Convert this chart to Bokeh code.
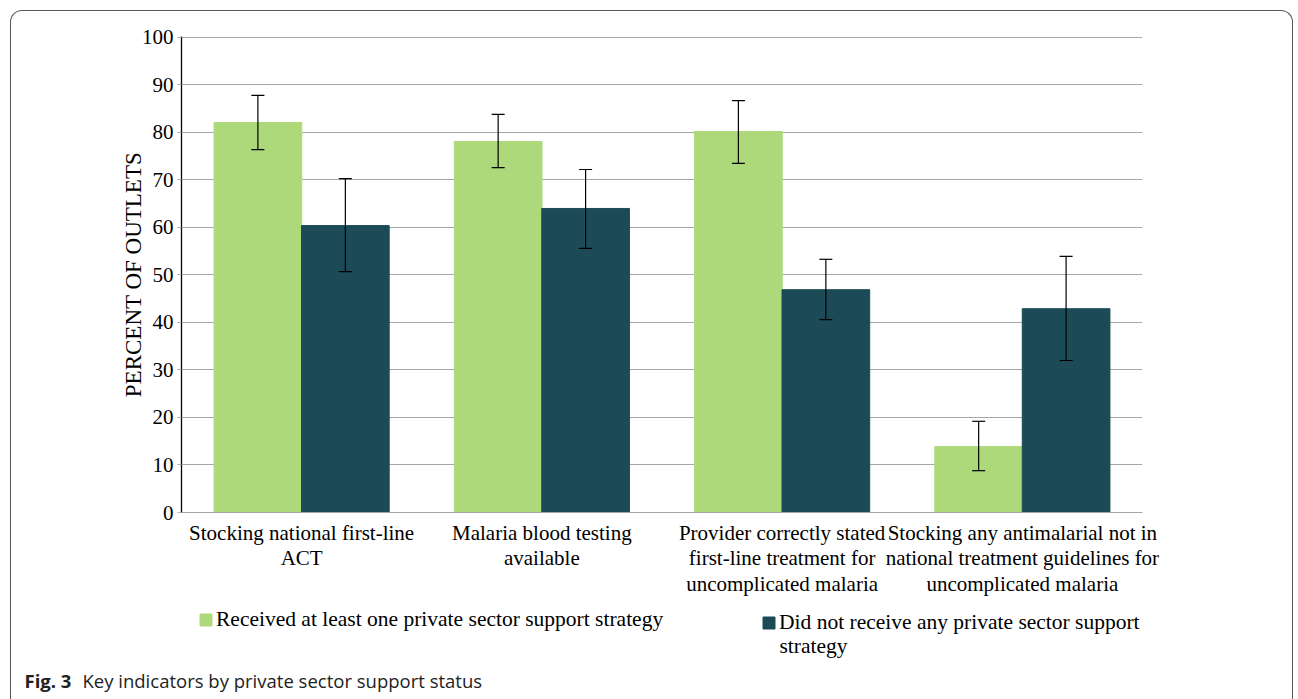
from bokeh.plotting import figure
from bokeh.layouts import column
from bokeh.models import (ColumnDataSource, FactorRange, Range1d, Whisker, Legend, LegendItem,
                          Label, TeeHead, FixedTicker, InlineStyleSheet)
from bokeh.transform import dodge
from bokeh.embed import file_html
from bokeh.resources import INLINE

categories = [
    "Stocking national first-line\nACT",
    "Malaria blood testing\navailable",
    "Provider correctly stated\nfirst-line treatment for\nuncomplicated malaria",
    "Stocking any antimalarial not in\nnational treatment guidelines for\nuncomplicated malaria",
]
received = [82.1, 78.1, 80.2, 13.9]
received_lo = [76.4, 72.6, 73.5, 8.8]
received_hi = [87.8, 83.8, 86.7, 19.2]
not_received = [60.4, 64.0, 46.9, 42.9]
not_received_lo = [50.7, 55.6, 40.6, 32.0]
not_received_hi = [70.3, 72.2, 53.3, 53.9]
y_ticks = [0, 10, 20, 30, 40, 50, 60, 70, 80, 90, 100]
series_names = ["Received at least one private sector support strategy",
                "Did not receive any private sector support"]
series2_wrap = "strategy"
caption_bold = "Fig. 3"
caption_text = "Key indicators by private sector support status"

GREEN = "#aed97b"
DARK = "#1c4b57"
SERIF = "Liberation Serif"
FS = "21px"

src = ColumnDataSource(dict(cat=categories, r=received, rlo=received_lo, rhi=received_hi,
                            n=not_received, nlo=not_received_lo, nhi=not_received_hi))

p = figure(width=1298, height=600, x_range=FactorRange(*categories, range_padding=0),
           y_range=Range1d(0, 100.2), output_backend="svg", toolbar_location=None,
           min_border_left=181, min_border_right=156, min_border_top=36, min_border_bottom=88)
p.frame_align = False
p.outline_line_color = None
p.background_fill_color = "white"
p.border_fill_color = "white"

OFF = 0.182
W = 0.365
b1 = p.vbar(x=dodge("cat", -OFF, range=p.x_range), top="r", width=W, source=src,
            fill_color=GREEN, line_color=GREEN)
b2 = p.vbar(x=dodge("cat", OFF, range=p.x_range), top="n", width=W, source=src,
            fill_color=DARK, line_color=DARK)

for off, lo, hi in [(-OFF, "rlo", "rhi"), (OFF, "nlo", "nhi")]:
    w = Whisker(base=dodge("cat", off, range=p.x_range), lower=lo, upper=hi, source=src,
                line_color="black", line_width=1.2, level="overlay",
                upper_head=TeeHead(size=13, line_color="black", line_width=1.2),
                lower_head=TeeHead(size=13, line_color="black", line_width=1.2))
    p.add_layout(w)

# axes
p.yaxis.ticker = FixedTicker(ticks=y_ticks)
p.yaxis.axis_line_color = "black"
p.yaxis.axis_line_width = 1.3
p.yaxis.major_tick_out = 4
p.yaxis.major_tick_in = 0
p.yaxis.major_tick_line_color = "#b0b0b0"
p.yaxis.minor_tick_line_color = None
p.yaxis.major_label_text_font = SERIF
p.yaxis.major_label_text_font_size = FS
p.yaxis.major_label_text_color = "black"
p.yaxis.major_label_standoff = 4
p.yaxis.axis_label = "PERCENT OF OUTLETS"
p.yaxis.axis_label_text_font = SERIF
p.yaxis.axis_label_text_font_size = "23px"
p.yaxis.axis_label_text_font_style = "normal"
p.yaxis.axis_label_text_color = "black"
p.yaxis.axis_label_standoff = -7

p.xaxis.axis_line_color = "#a6a6a6"
p.xaxis.axis_line_width = 1.2
p.xaxis.major_tick_line_color = None
p.xaxis.minor_tick_line_color = None
p.xaxis.major_label_text_font = SERIF
p.xaxis.major_label_text_font_size = FS
p.xaxis.major_label_text_color = "black"
p.xaxis.major_label_text_line_height = 1.07
p.xaxis.major_label_standoff = 2
p.xaxis.major_label_orientation = "horizontal"

p.xgrid.grid_line_color = None
p.ygrid.grid_line_color = "#a6a6a6"
p.ygrid.grid_line_width = 1.2

# lower panel: legend + caption
p2 = figure(width=1298, height=99, x_range=Range1d(0, 1298), y_range=Range1d(0, 99),
            output_backend="svg", toolbar_location=None,
            min_border_left=0, min_border_right=0, min_border_top=0, min_border_bottom=0)
p2.frame_align = False
p2.axis.visible = False
p2.grid.visible = False
p2.outline_line_color = None
p2.border_fill_color = None
p2.background_fill_color = None
# legend proxies (kept outside the visible range of this panel)
proxy = ColumnDataSource(dict(x=[-500], top=[-500]))
d1 = p2.vbar(x="x", top="top", width=1, source=proxy, fill_color=GREEN, line_color=GREEN)
d2 = p2.vbar(x="x", top="top", width=1, source=proxy, fill_color=DARK, line_color=DARK)

common = dict(glyph_width=15, glyph_height=15, label_standoff=3, label_height=25,
              label_text_font=SERIF, label_text_font_size="21.5px", label_text_color="black",
              border_line_color=None, background_fill_alpha=0, padding=0, margin=0)
leg1 = Legend(items=[LegendItem(label=series_names[0], renderers=[d1])],
              location=(198, 67), **common)
leg2 = Legend(items=[LegendItem(label=series_names[1], renderers=[d2])],
              location=(761, 64), **common)
p2.add_layout(leg1)
p2.add_layout(leg2)
p2.add_layout(Label(x=779, y=54, x_units="screen", y_units="screen", text=series2_wrap,
                    text_font=SERIF, text_font_size="21.5px", text_color="black",
                    text_baseline="middle"))

p2.add_layout(Label(x=24, y=19, x_units="screen", y_units="screen", text=caption_bold,
                    text_font="Open Sans", text_font_style="bold", text_font_size="18.5px",
                    text_color="#222222", text_baseline="alphabetic"))
p2.add_layout(Label(x=82, y=19, x_units="screen", y_units="screen", text=caption_text,
                    text_font="Open Sans", text_font_size="18.5px", text_color="#222222",
                    text_baseline="alphabetic"))

frame_css = InlineStyleSheet(css="""
:host { position: relative; }
:host::after {
  content: ''; position: absolute; left: 10px; top: 10px; width: 1283px; height: 689px;
  border: 1.2px solid #555555; border-bottom: none; border-radius: 12px 12px 0 0;
  box-sizing: border-box; pointer-events: none;
}
""")
layout = column(p, p2, spacing=0, stylesheets=[frame_css])

open("out.html", "w").write(file_html(layout, INLINE))
